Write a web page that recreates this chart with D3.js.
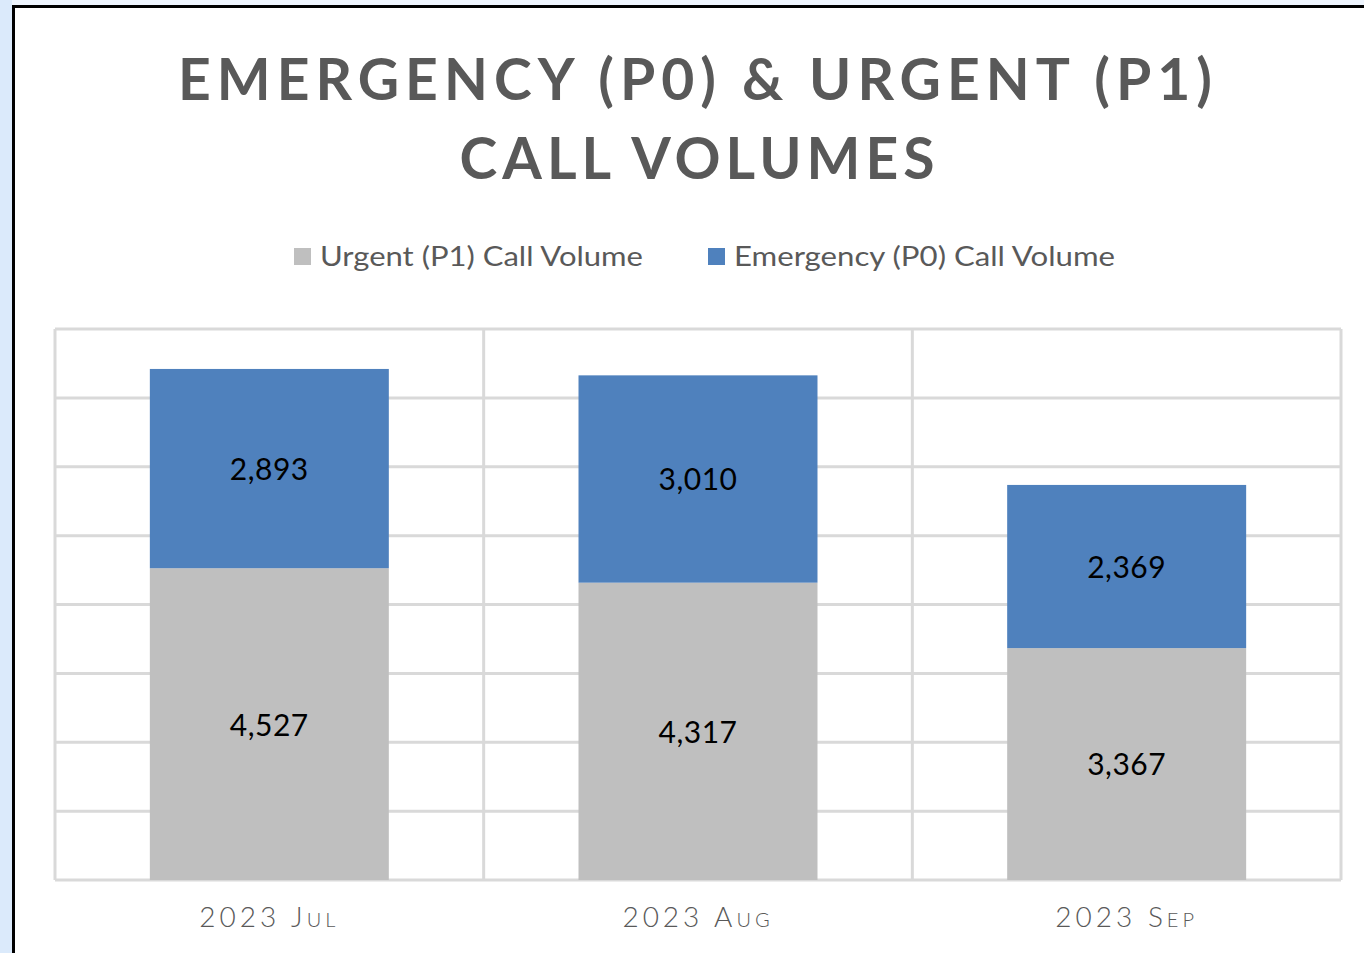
<!DOCTYPE html>
<html>
<head>
<meta charset="utf-8">
<script src="https://cdn.jsdelivr.net/npm/d3@7"></script>
<style>
  body { margin: 0; background: #fff; }
  svg { display: block; }
</style>
</head>
<body>
<svg width="1364" height="953"></svg>
<script>
// data
const MONTHS = ['2023 Jul', '2023 Aug', '2023 Sep'];
const URGENT = [4527, 4317, 3367];     // P1, bottom segment
const EMERGENCY = [2893, 3010, 2369];  // P0, top segment
const Y_TICKS = [0, 1000, 2000, 3000, 4000, 5000, 6000, 7000, 8000];
const SERIES = ['Urgent (P1) Call Volume', 'Emergency (P0) Call Volume'];
const COLORS = ['#bfbfbf', '#4f81bd'];

const W = 1364, H = 953;
const plot = {left: 55, right: 1341, top: 329, bottom: 880};

const svg = d3.select('svg');

// frame: light blue surround, black top/left border
svg.append('rect').attr('width', W).attr('height', H).attr('fill', '#eef5fe');
svg.append('rect').attr('width', 12).attr('height', H).attr('fill', '#dbeafb');
svg.append('rect').attr('x', 15).attr('y', 8).attr('width', W).attr('height', H).attr('fill', '#fff');
svg.append('rect').attr('x', 12).attr('y', 5).attr('width', W).attr('height', 3).attr('fill', '#000');
svg.append('rect').attr('x', 12).attr('y', 5).attr('width', 3).attr('height', H).attr('fill', '#000');

// title
const title = svg.append('g')
    .attr('font-family', 'Lato, sans-serif')
    .attr('font-weight', 700)
    .attr('font-size', 57)
    .attr('fill', '#595959')
    .attr('text-anchor', 'middle');
title.append('text').attr('x', 695).attr('y', 100)
    .attr('textLength', 1034).attr('lengthAdjust', 'spacing')
    .text('EMERGENCY (P0) & URGENT (P1)');
title.append('text').attr('x', 697).attr('y', 179)
    .attr('textLength', 475).attr('lengthAdjust', 'spacing')
    .text('CALL VOLUMES');

// legend
const legendPos = [{x: 294, w: 323}, {x: 708, w: 381}];
const legend = svg.append('g').attr('font-family', 'Lato, sans-serif').attr('font-size', 27).attr('fill', '#595959');
SERIES.forEach((s, i) => {
  legend.append('rect').attr('x', legendPos[i].x).attr('y', 248)
      .attr('width', 17).attr('height', 17).attr('fill', COLORS[i]);
  legend.append('text').attr('x', legendPos[i].x + 26).attr('y', 266)
      .attr('textLength', legendPos[i].w).attr('lengthAdjust', 'spacingAndGlyphs')
      .text(s);
});

// scales
const gap = 0.4425;
const x = d3.scaleBand()
    .domain(MONTHS)
    .range([plot.left, plot.right])
    .paddingInner(gap)
    .paddingOuter(gap / 2);
const y = d3.scaleLinear()
    .domain([0, 8000])
    .range([plot.bottom, plot.top]);

// gridlines
const grid = svg.append('g').attr('stroke', '#d9d9d9').attr('stroke-width', 3);
grid.selectAll('.h')
    .data(Y_TICKS)
    .enter()
    .append('line')
    .attr('x1', plot.left).attr('x2', plot.right)
    .attr('y1', d => y(d)).attr('y2', d => y(d));
// category boundaries
const bounds = MONTHS.map(m => x(m) - x.step() * gap / 2).concat([plot.right]);
grid.selectAll('.v')
    .data(bounds)
    .enter()
    .append('line')
    .attr('x1', d => d).attr('x2', d => d)
    .attr('y1', plot.top).attr('y2', plot.bottom);

// stacked bars
const rows = MONTHS.map((m, i) => ({month: m, urgent: URGENT[i], emergency: EMERGENCY[i]}));
const stacked = d3.stack().keys(['urgent', 'emergency'])(rows);

const layers = svg.selectAll('.layer')
    .data(stacked)
    .enter()
    .append('g')
    .attr('fill', (d, i) => COLORS[i]);

layers.selectAll('rect')
    .data(d => d)
    .enter()
    .append('rect')
    .attr('x', d => x(d.data.month))
    .attr('width', x.bandwidth())
    .attr('y', d => y(d[1]))
    .attr('height', d => y(d[0]) - y(d[1]));

// value labels
const fmt = d3.format(',');
layers.selectAll('text')
    .data(d => d)
    .enter()
    .append('text')
    .attr('x', d => x(d.data.month) + x.bandwidth() / 2)
    .attr('y', d => (y(d[0]) + y(d[1])) / 2)
    .attr('dy', '0.38em')
    .attr('text-anchor', 'middle')
    .attr('font-family', 'Lato, sans-serif')
    .attr('font-size', 30)
    .attr('fill', '#000')
    .style('letter-spacing', '0.5px')
    .text(d => fmt(d[1] - d[0]));

// x axis labels
const xAxis = svg.append('g')
    .attr('transform', `translate(0,${plot.bottom})`)
    .call(d3.axisBottom(x).tickSize(0).tickPadding(0));
xAxis.select('.domain').remove();
xAxis.selectAll('text')
    .attr('y', 47)
    .attr('dy', 0)
    .attr('font-family', 'Lato, sans-serif')
    .attr('font-size', 28)
    .attr('font-weight', 300)
    .attr('fill', '#595959')
    .style('font-variant', 'small-caps')
    .style('letter-spacing', '4px');
</script>
</body>
</html>
